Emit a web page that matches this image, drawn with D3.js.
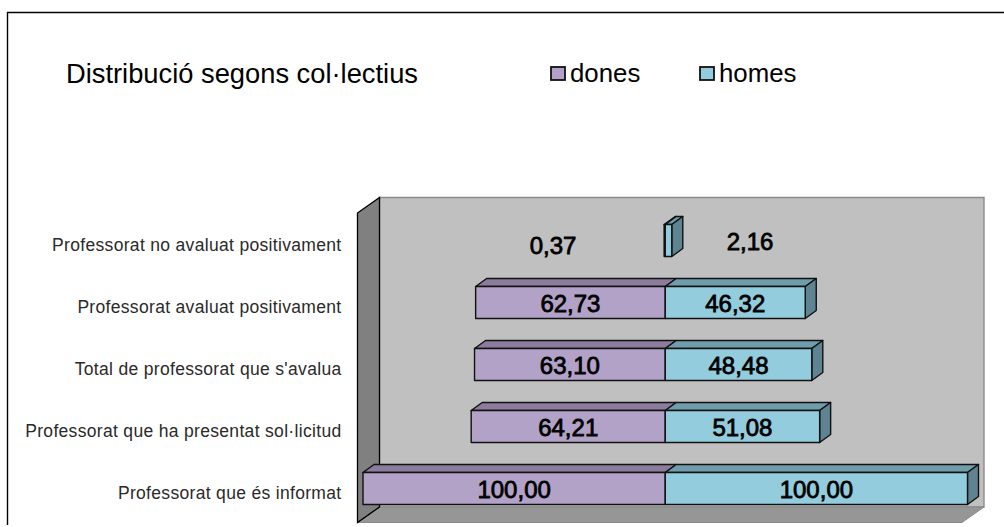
<!DOCTYPE html>
<html><head><meta charset="utf-8">
<script src="https://cdn.jsdelivr.net/npm/d3@7"></script>
<style>html,body{margin:0;background:#fff}svg{display:block}text{font-family:"Liberation Sans",Arial,sans-serif;fill:#000}text.cat{fill:#2a2a2a;letter-spacing:.32px}</style>
</head><body><svg id="c" width="1004" height="527"></svg>
<script>
const categories = ["Professorat no avaluat positivament","Professorat avaluat positivament","Total de professorat que s'avalua","Professorat que ha presentat sol·licitud","Professorat que és informat"];
const dones = [0.37,62.73,63.10,64.21,100.00];
const homes = [2.16,46.32,48.48,51.08,100.00];
const seriesNames = ["dones","homes"];
const title = "Distribució segons col·lectius";

const svg = d3.select("#c");
const x = d3.scaleLinear().domain([-100,100]).range([363,967.5]);
const y = d3.scaleBand().domain(categories).range([224.5,504.5]).paddingInner(30/62);
const dx = 11, dy = -8;
const fmt = v => v.toFixed(2).replace(".",",");
const pts = a => a.map(p=>p.join(",")).join(" ");
const PAL = {
  dones:{front:"#b2a2c7",top:"#8b7b9c",side:"#8b7b9c"},
  homes:{front:"#93cddd",top:"#6f9dab",side:"#5f8391"}
};

// frame
svg.append("path").attr("d","M7.5,525V12.5H1004").attr("fill","none").attr("stroke","#000").attr("stroke-width",1.4);

// walls
const W = {l:357.5,bl:379.5,r:984,fr:962,t:197.5,b:507,ft:213,fb:522.5};
svg.append("polygon").attr("points",pts([[W.bl,W.t],[W.r,W.t],[W.r,W.b],[W.bl,W.b]])).attr("fill","#c0c0c0").attr("stroke","#8a8a8a").attr("stroke-width",1.4);
svg.append("polygon").attr("points",pts([[W.l,W.fb],[W.fr,W.fb],[W.r,W.b],[W.bl,W.b]])).attr("fill","#969696").attr("stroke","#8a8a8a").attr("stroke-width",1);
svg.append("polygon").attr("points",pts([[W.l,W.ft],[W.bl,W.t],[W.bl,W.b],[W.l,W.fb]])).attr("fill","#808080").attr("stroke","#000").attr("stroke-width",1.3);
svg.append("line").attr("x1",W.l).attr("y1",W.fb).attr("x2",W.bl).attr("y2",W.b).attr("stroke","#000").attr("stroke-dasharray","4 2").attr("stroke-width",1);

// bars
categories.forEach((c,i)=>{
  const t=y(c), b=t+y.bandwidth(), x0=x(-dones[i]), xm=x(0), x1=x(homes[i]);
  const g=svg.append("g").attr("stroke","#111").attr("stroke-width",1.4).attr("stroke-linejoin","round");
  [["dones",x0,xm],["homes",xm,x1]].forEach(([s,a,e])=>{
    g.append("polygon").attr("points",pts([[a,t],[e,t],[e+dx,t+dy],[a+dx,t+dy]])).attr("fill",PAL[s].top);
    if(s==="homes") g.append("polygon").attr("points",pts([[e,t],[e+dx,t+dy],[e+dx,b+dy],[e,b]])).attr("fill",PAL[s].side);
    g.append("rect").attr("x",a).attr("y",t).attr("width",e-a).attr("height",b-t).attr("fill",PAL[s].front);
  });
});

// category labels
svg.selectAll("text.cat").data(categories).join("text").attr("class","cat")
  .attr("x",341.5).attr("y",c=>y(c)+y.bandwidth()/2+10.5).attr("text-anchor","end")
  .attr("font-size",17.5).text(c=>c);

// value labels (the two small top bars have labels moved beside the bars)
const moved = [{v:dones[0],cx:553,by:254},{v:homes[0],cx:750,by:250}];
const labels = [];
categories.forEach((c,i)=>{
  if(i===0) return;
  const by=y(c)+y.bandwidth()/2+9;
  labels.push({v:dones[i],cx:(x(-dones[i])+x(0))/2,by});
  labels.push({v:homes[i],cx:(x(homes[i])+x(0))/2,by});
});
svg.selectAll("text.val").data(labels.concat(moved)).join("text").attr("class","val")
  .attr("x",d=>d.cx).attr("y",d=>d.by).attr("text-anchor","middle")
  .attr("font-size",24).attr("stroke","#000").attr("stroke-width",0.8).text(d=>fmt(d.v));

// title & legend
svg.append("text").attr("x",66).attr("y",83).attr("font-size",27.3).attr("fill","#111").text(title);
const legendX = d3.scaleOrdinal().domain(seriesNames).range([551,700]);
seriesNames.forEach(s=>{
  svg.append("rect").attr("x",legendX(s)).attr("y",67).attr("width",14).attr("height",13).attr("fill",PAL[s].front).attr("stroke","#111").attr("stroke-width",1.8);
  svg.append("text").attr("x",legendX(s)+19).attr("y",82).attr("font-size",25.8).text(s);
});
</script></body></html>
